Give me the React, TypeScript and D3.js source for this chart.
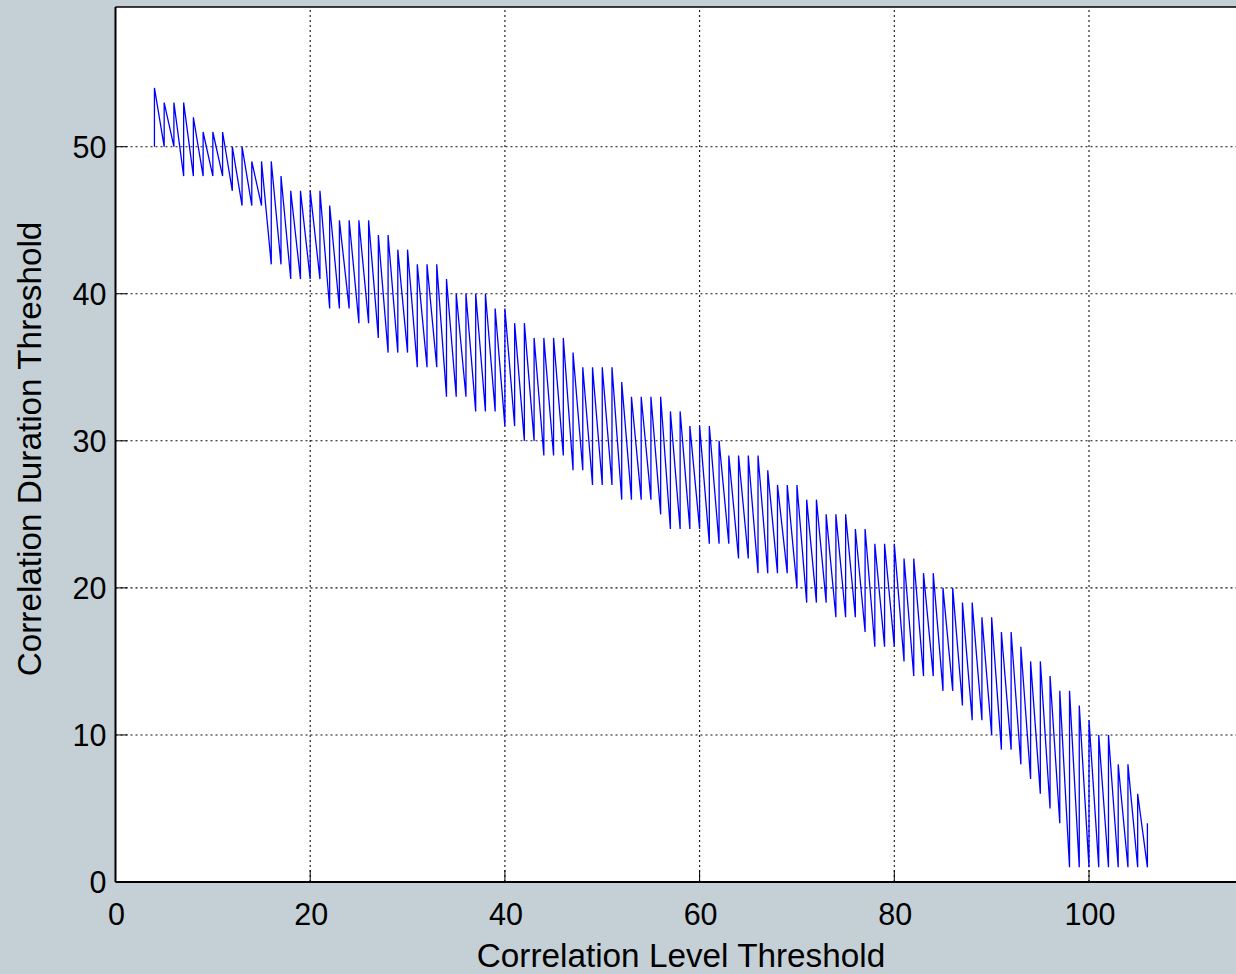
import React from "react";
import * as d3 from "d3";

// Correlation level threshold (x) for each tooth
const levels = [
  4, 5, 6, 7, 8, 9, 10, 11, 12, 13, 14, 15, 16, 17, 18, 19, 20, 21, 22, 23,
  24, 25, 26, 27, 28, 29, 30, 31, 32, 33, 34, 35, 36, 37, 38, 39, 40, 41, 42, 43,
  44, 45, 46, 47, 48, 49, 50, 51, 52, 53, 54, 55, 56, 57, 58, 59, 60, 61, 62, 63,
  64, 65, 66, 67, 68, 69, 70, 71, 72, 73, 74, 75, 76, 77, 78, 79, 80, 81, 82, 83,
  84, 85, 86, 87, 88, 89, 90, 91, 92, 93, 94, 95, 96, 97, 98, 99, 100, 101, 102, 103,
  104, 105, 106,
];
// Lower duration threshold at each level
const lows = [
  50, 50, 50, 48, 48, 48, 48, 48, 47, 46, 46, 46, 42, 42, 41, 41, 41, 41, 39, 39,
  39, 38, 38, 37, 36, 36, 36, 35, 35, 35, 33, 33, 33, 32, 32, 32, 31, 31, 30, 30,
  29, 29, 29, 28, 28, 27, 27, 27, 26, 26, 26, 26, 25, 24, 24, 24, 24, 23, 23, 23,
  22, 22, 21, 21, 21, 21, 20, 19, 19, 19, 18, 18, 18, 17, 16, 16, 16, 15, 14, 14,
  14, 13, 13, 12, 11, 11, 10, 9, 9, 8, 7, 6, 5, 4, 1, 1, 1, 1, 1, 1,
  1, 1, 1,
];
// Upper duration threshold at each level
const highs = [
  54, 53, 53, 53, 52, 51, 51, 51, 50, 50, 49, 49, 49, 48, 47, 47, 47, 47, 46, 45,
  45, 45, 45, 44, 44, 43, 43, 42, 42, 42, 41, 40, 40, 40, 40, 39, 39, 38, 38, 37,
  37, 37, 37, 36, 35, 35, 35, 35, 34, 33, 33, 33, 33, 32, 32, 31, 31, 31, 30, 29,
  29, 29, 29, 28, 27, 27, 27, 26, 26, 25, 25, 25, 24, 24, 23, 23, 23, 22, 22, 21,
  21, 20, 20, 19, 19, 18, 18, 17, 17, 16, 15, 15, 14, 13, 13, 12, 11, 10, 10, 8,
  8, 6, 4,
];

const xTicks = [0, 20, 40, 60, 80, 100];
const yTicks = [0, 10, 20, 30, 40, 50];
const xLabel = "Correlation Level Threshold";
const yLabel = "Correlation Duration Threshold";

const W = 1236;
const H = 974;
const FONT = "'Liberation Sans', Arial, Helvetica, sans-serif";

export default function App() {
  const x = d3.scaleLinear().domain([0, 120]).range([115.5, 1283.7]);
  const y = d3.scaleLinear().domain([0, 59.5]).range([882, 7]);

  const pts: [number, number][] = [];
  levels.forEach((lv, i) => {
    pts.push([lv, lows[i]]);
    pts.push([lv, highs[i]]);
  });
  const line = d3
    .line<[number, number]>()
    .x((d) => x(d[0]))
    .y((d) => y(d[1]));

  const [x0, x1] = x.range();
  const [yb, yt] = y.range();
  const tickLen = 12;

  return (
    <svg
      width={W}
      height={H}
      style={{ position: "absolute", left: 0, top: 0, display: "block" }}
    >
      <rect x={0} y={0} width={W} height={H} fill="#c5d0d6" />
      <rect x={x0} y={yt} width={x1 - x0} height={yb - yt} fill="#ffffff" />
      <defs>
        <clipPath id="plotclip">
          <rect x={x0} y={yt} width={x1 - x0} height={yb - yt} />
        </clipPath>
      </defs>
      {/* grid */}
      <g stroke="#111" strokeWidth={1.1} strokeDasharray="2,3" fill="none">
        {xTicks
          .filter((t) => t > 0)
          .map((t) => (
            <line key={"gx" + t} x1={x(t)} x2={x(t)} y1={yb} y2={yt} />
          ))}
        {yTicks
          .filter((t) => t > 0)
          .map((t) => (
            <line key={"gy" + t} x1={x0} x2={x1} y1={y(t)} y2={y(t)} />
          ))}
      </g>
      {/* data */}
      <g clipPath="url(#plotclip)">
        <path
          d={line(pts) || ""}
          fill="none"
          stroke="#0000ff"
          strokeWidth={1.3}
          strokeLinejoin="miter"
        />
      </g>
      {/* ticks */}
      <g stroke="#000" strokeWidth={1}>
        {xTicks.map((t) => (
          <line key={"tx" + t} x1={x(t)} x2={x(t)} y1={yb} y2={yb - tickLen} />
        ))}
        {yTicks.map((t) => (
          <line key={"ty" + t} x1={x0} x2={x0 + tickLen} y1={y(t)} y2={y(t)} />
        ))}
      </g>
      {/* axes box */}
      <g stroke="#000" strokeWidth={2} fill="none">
        <line x1={x0} x2={x0} y1={yt} y2={yb} />
        <line x1={x0} x2={x1} y1={yb} y2={yb} />
        <line x1={x0} x2={x1} y1={yt} y2={yt} strokeWidth={1.5} />
      </g>
      {/* tick labels */}
      <g fontFamily={FONT} fontSize={30.5} fill="#000">
        {xTicks.map((t) => (
          <text key={"lx" + t} x={x(t) + 1} y={925} textAnchor="middle">
            {t}
          </text>
        ))}
        {yTicks.map((t) => (
          <text key={"ly" + t} x={106.5} y={y(t) + 11} textAnchor="end">
            {t}
          </text>
        ))}
      </g>
      {/* axis labels */}
      <text
        x={681}
        y={967}
        textAnchor="middle"
        fontFamily={FONT}
        fontSize={33.3}
        fill="#000"
      >
        {xLabel}
      </text>
      <text
        transform={`translate(41,449) rotate(-90)`}
        textAnchor="middle"
        fontFamily={FONT}
        fontSize={33.3}
        fill="#000"
      >
        {yLabel}
      </text>
    </svg>
  );
}
